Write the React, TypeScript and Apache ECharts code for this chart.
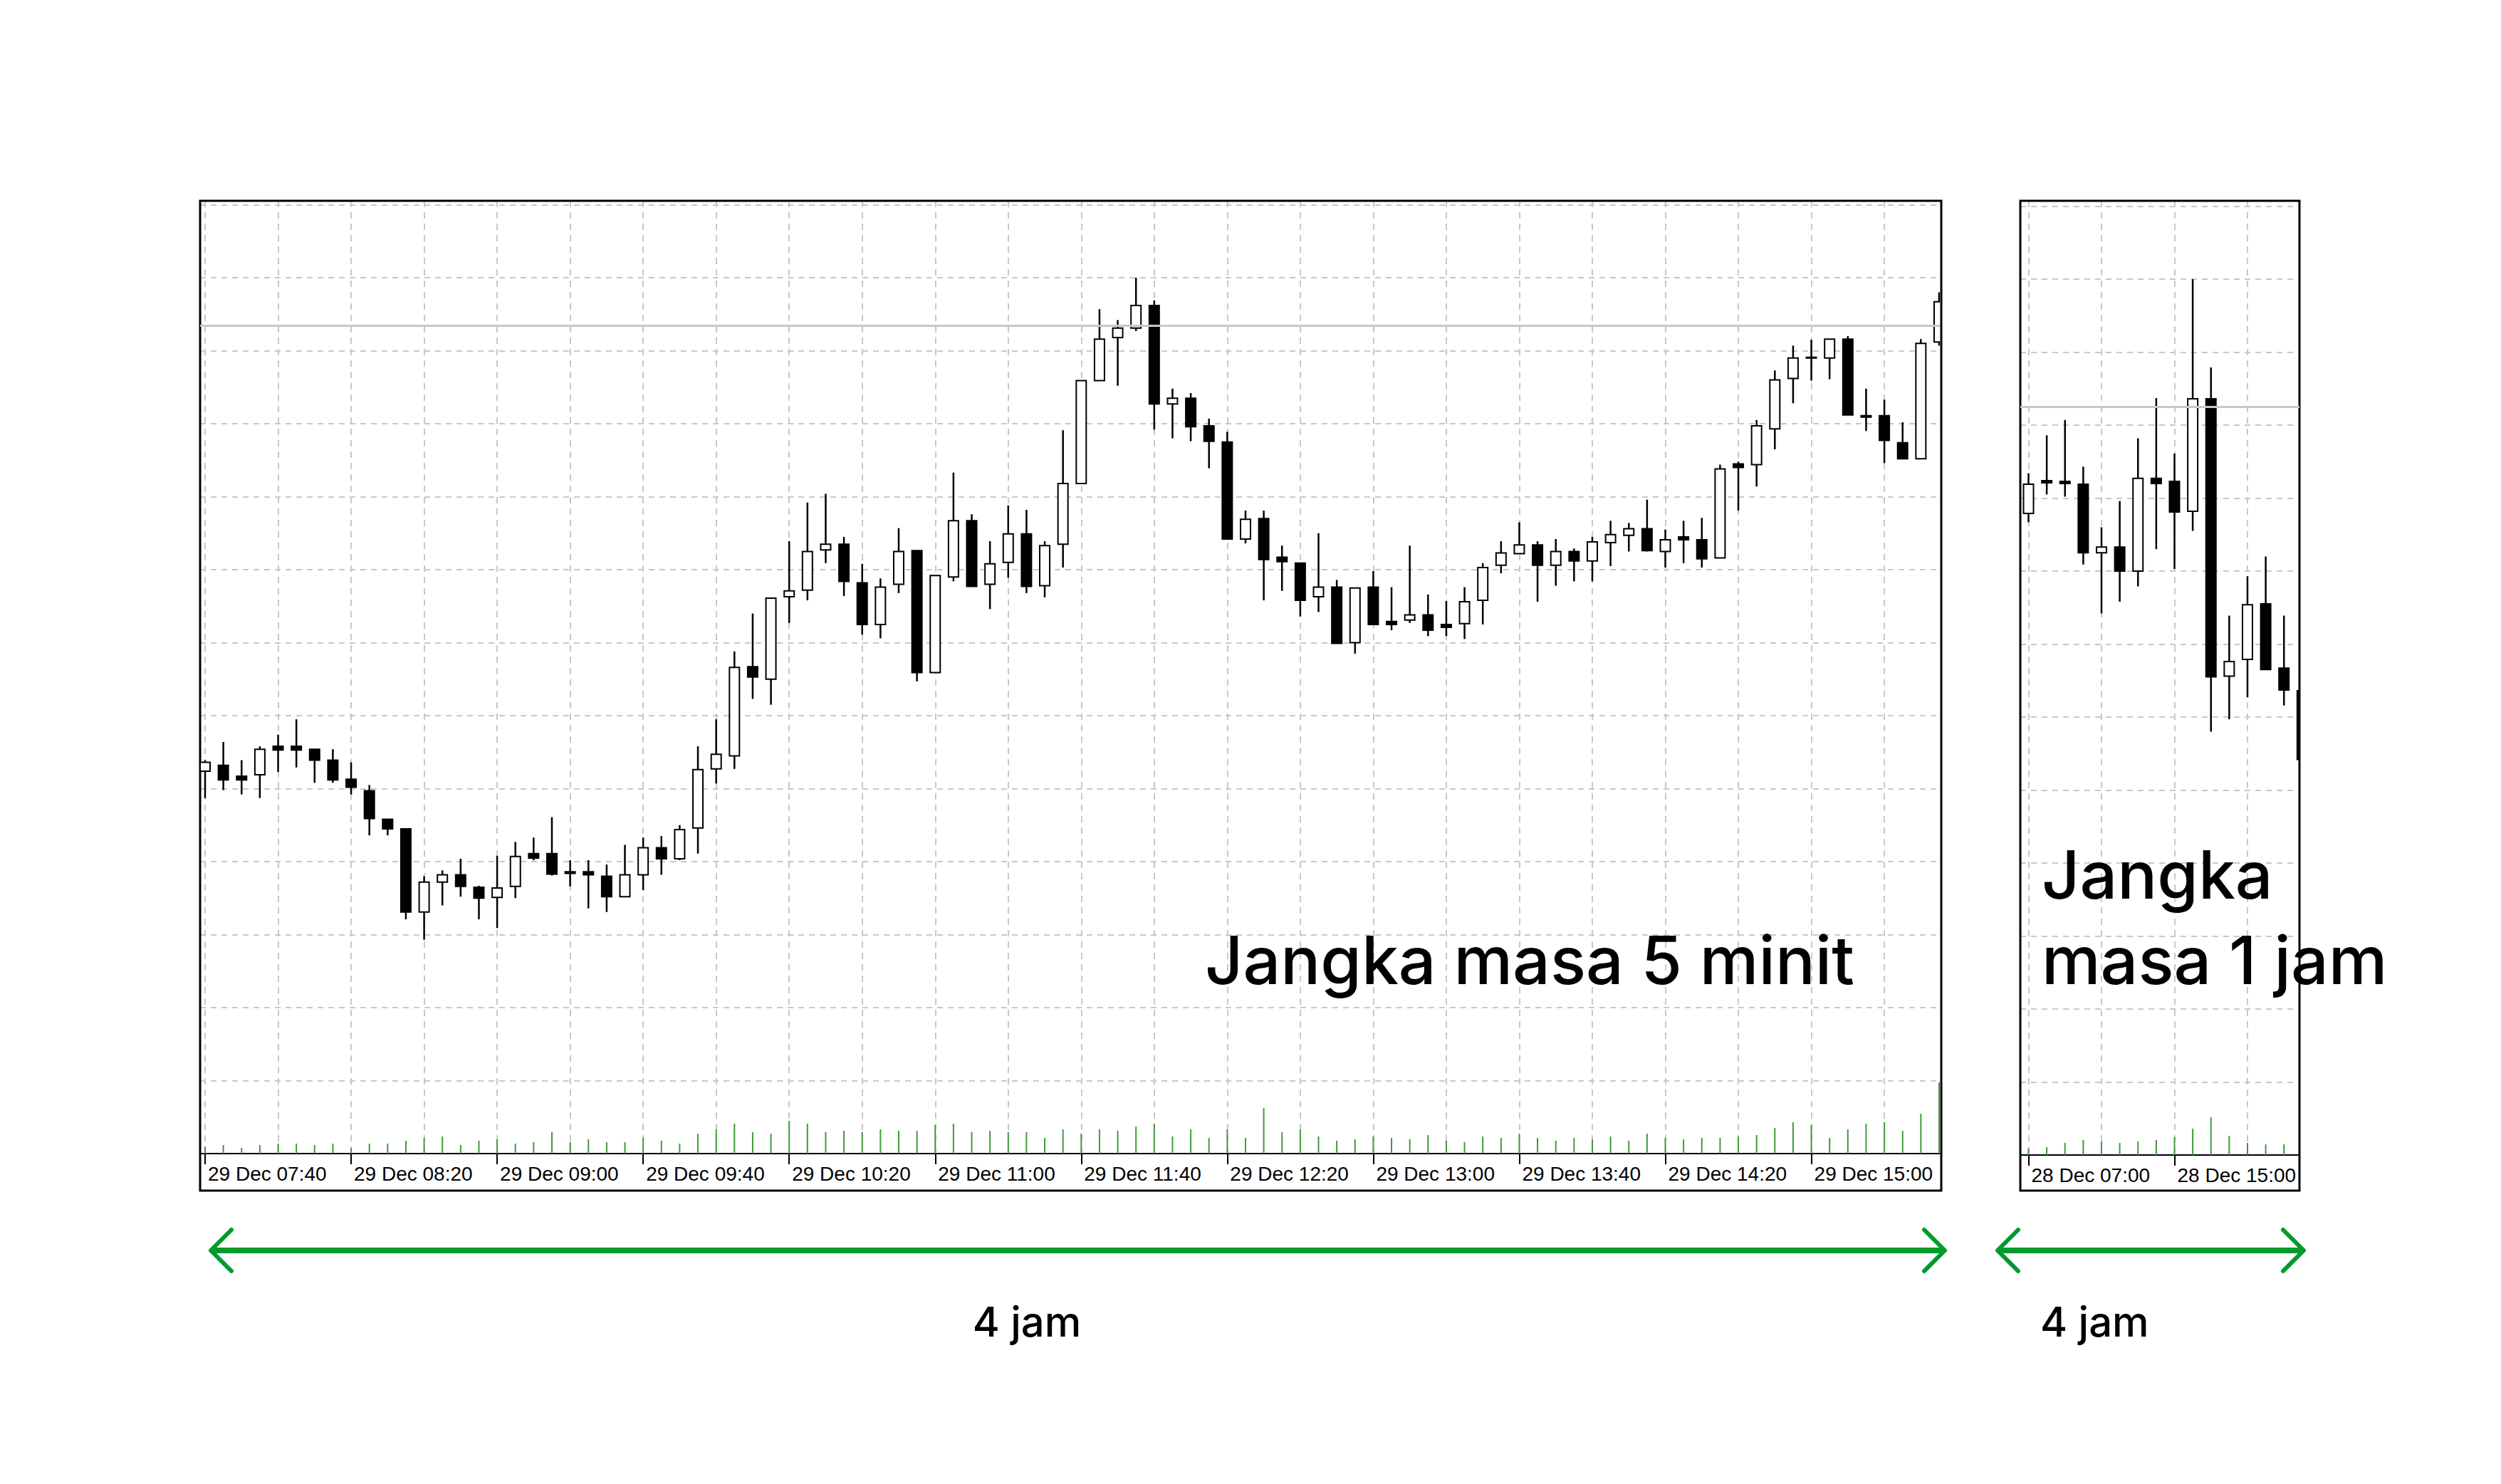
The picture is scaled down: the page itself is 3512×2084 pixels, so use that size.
import React, { useEffect, useRef } from "react";
import * as echarts from "echarts";

// ---------- data ----------
const mainTickLabels = [
  "29 Dec 07:40", "29 Dec 08:20", "29 Dec 09:00", "29 Dec 09:40",
  "29 Dec 10:20", "29 Dec 11:00", "29 Dec 11:40", "29 Dec 12:20",
  "29 Dec 13:00", "29 Dec 13:40", "29 Dec 14:20", "29 Dec 15:00",
];
const hourTickLabels = ["28 Dec 07:00", "28 Dec 15:00"];

// 5-minute candles: [open, close, low, high]
const mainCandles = [
  [52.4, 53.6, 48.7, 53.9], [53.2, 51.2, 49.8, 56.4], [51.7, 51.2, 49.2, 53.9], [51.9, 55.4, 48.7, 55.8],
  [55.8, 55.3, 52.3, 57.4], [55.8, 55.3, 52.9, 59.5], [55.4, 53.9, 50.8, 55.4], [53.9, 51.2, 50.8, 55.4],
  [51.3, 50.2, 49.2, 53.6], [49.7, 45.9, 43.6, 50.5], [45.8, 44.5, 43.6, 45.8], [44.5, 33.1, 32.1, 44.5],
  [33.1, 37.2, 29.3, 38.0], [37.2, 38.2, 34.0, 38.8], [38.2, 36.6, 35.2, 40.4], [36.5, 35.0, 32.1, 36.7],
  [35.1, 36.4, 30.9, 40.8], [36.6, 40.7, 35.0, 42.7], [41.1, 40.5, 40.2, 43.3], [41.1, 38.3, 38.1, 46.1],
  [38.6, 38.4, 36.6, 40.2], [38.6, 38.2, 33.6, 40.2], [38.0, 35.2, 33.1, 39.6], [35.2, 38.2, 35.2, 42.3],
  [38.2, 41.9, 36.1, 43.3], [41.9, 40.4, 38.2, 43.5], [40.4, 44.4, 40.2, 45.0], [44.6, 52.6, 41.1, 55.8],
  [52.7, 54.7, 50.7, 59.5], [54.5, 66.6, 52.7, 68.8], [66.7, 65.3, 62.3, 74.0], [65.0, 76.1, 61.5, 76.1],
  [76.3, 77.1, 72.7, 83.9], [77.2, 82.5, 75.8, 89.2], [82.7, 83.5, 80.9, 90.4], [83.5, 78.4, 76.4, 84.5],
  [78.2, 72.5, 71.1, 80.8], [72.5, 77.6, 70.6, 78.8], [78.0, 82.5, 76.8, 85.7], [82.6, 65.9, 64.7, 82.6],
  [65.9, 79.2, 65.9, 79.2], [79.0, 86.7, 78.4, 93.3], [86.7, 77.7, 77.7, 87.6], [78.0, 80.8, 74.6, 83.9],
  [81.0, 84.9, 78.9, 88.8], [84.9, 77.7, 76.8, 88.2], [77.8, 83.3, 76.2, 83.9], [83.5, 91.8, 80.3, 99.1],
  [91.8, 105.9, 91.8, 105.9], [105.9, 111.6, 105.9, 115.7], [111.8, 113.1, 105.2, 114.2], [113.1, 116.2, 112.7, 120.0],
  [116.2, 102.7, 99.2, 116.9], [102.7, 103.5, 98.0, 104.8], [103.5, 99.6, 97.6, 104.2], [99.7, 97.6, 93.9, 100.7],
  [97.5, 84.2, 84.2, 98.9], [84.2, 86.9, 83.6, 88.1], [87.0, 81.4, 75.8, 88.1], [81.7, 81.1, 77.1, 83.3],
  [80.9, 75.8, 73.6, 80.9], [76.3, 77.6, 74.2, 85.0], [77.6, 69.9, 69.9, 78.6], [70.0, 77.5, 68.5, 77.5],
  [77.6, 72.5, 72.5, 79.8], [72.9, 72.5, 71.7, 77.6], [73.1, 73.8, 72.7, 83.3], [73.8, 71.7, 70.9, 76.6],
  [72.5, 72.1, 70.9, 75.7], [72.6, 75.6, 70.5, 77.6], [75.8, 80.3, 72.5, 80.9], [80.6, 82.3, 79.5, 83.9],
  [82.2, 83.4, 82.2, 86.5], [83.4, 80.6, 75.6, 83.9], [80.6, 82.5, 77.8, 84.2], [82.5, 81.2, 78.4, 82.9],
  [81.2, 83.8, 78.4, 84.5], [83.7, 84.8, 80.5, 86.7], [84.7, 85.6, 82.5, 86.4], [85.6, 82.6, 82.5, 89.6],
  [82.5, 84.1, 80.3, 85.5], [84.5, 84.1, 80.9, 86.7], [84.1, 81.5, 80.3, 87.1], [81.6, 93.8, 81.6, 94.4],
  [94.5, 94.0, 88.1, 94.8], [94.4, 99.7, 91.4, 100.5], [99.3, 106.0, 96.5, 107.3], [106.2, 109.0, 102.8, 110.7],
  [109.0, 109.1, 105.9, 111.5], [109.0, 111.6, 106.1, 111.6], [111.6, 101.2, 101.2, 112.0], [101.1, 100.9, 99.0, 104.8],
  [101.1, 97.7, 94.6, 103.3], [97.4, 95.2, 95.2, 100.2], [95.2, 111.0, 95.2, 111.6], [111.2, 116.7, 110.7, 118.0],
];

const mainVolumes = [
  100, 120, 80, 120, 140, 140, 120, 140,
  80, 140, 140, 180, 220, 240, 120, 180,
  200, 140, 160, 300, 160, 200, 160, 160,
  220, 180, 140, 280, 340, 420, 300, 280,
  460, 420, 300, 320, 300, 340, 320, 320,
  400, 420, 300, 320, 300, 300, 220, 340,
  280, 340, 320, 380, 420, 240, 340, 220,
  340, 220, 640, 300, 340, 240, 180, 200,
  240, 220, 200, 260, 180, 160, 240, 220,
  280, 220, 180, 220, 200, 240, 180, 280,
  220, 200, 220, 220, 240, 260, 360, 440,
  400, 220, 340, 420, 440, 320, 560, 1000,
];

// 1-hour candles: [open, close, low, high]
const hourCandles = [
  [87.9, 91.9, 86.7, 93.4], [92.4, 92.1, 90.5, 98.6], [92.3, 92.0, 90.2, 100.7], [91.9, 82.5, 80.9, 94.3],
  [82.5, 83.3, 74.2, 86.0], [83.3, 80.0, 75.8, 89.6], [80.0, 92.7, 77.9, 98.2], [92.7, 92.0, 83.0, 103.7],
  [92.3, 88.1, 80.3, 96.1], [88.2, 103.6, 85.5, 120.0], [103.6, 65.5, 58.0, 107.9], [65.6, 67.6, 59.7, 73.9],
  [67.9, 75.4, 62.7, 79.3], [75.5, 66.5, 66.5, 82.0], [66.7, 63.7, 61.6, 73.9], [63.6, 54.2, 54.2, 63.6],
];
const hourVolumes = [90, 110, 170, 210, 190, 170, 190, 210, 250, 370, 530, 270, 170, 150, 150, 120];

const mainRefLevel = 113.4;
const hourRefLevel = 102.5;

// ---------- styling ----------
const GRID_COLOR = "#c8c8c8";
const VOL_COLOR = "#3f9b37";
const ARROW_COLOR = "#009a2e";
const TEXT_FONT = "Inter";
const AXIS_FONT = "Liberation Sans";

function candleRender(params: any, api: any) {
  const i = api.value(0);
  const o = api.value(1);
  const c = api.value(2);
  const l = api.value(3);
  const h = api.value(4);
  const pO = api.coord([i, o]);
  const pC = api.coord([i, c]);
  const pL = api.coord([i, l]);
  const pH = api.coord([i, h]);
  const x = pO[0];
  const top = Math.min(pO[1], pC[1]);
  const bot = Math.max(pO[1], pC[1]);
  const bull = c >= o;
  const half = 7;
  const bh = Math.max(bot - top, 1);
  return {
    type: "group",
    children: [
      {
        type: "line",
        shape: { x1: x, y1: pH[1], x2: x, y2: pL[1] },
        style: { stroke: "#000", lineWidth: 2.5 },
      },
      {
        type: "rect",
        shape: { x: x - half, y: top, width: half * 2, height: bh },
        style: { fill: bull ? "#fff" : "#000", stroke: "#000", lineWidth: 2 },
      },
    ],
  };
}

function volumeRender(params: any, api: any) {
  const i = api.value(0);
  const v = api.value(1);
  const p0 = api.coord([i, 0]);
  const p1 = api.coord([i, v]);
  return {
    type: "line",
    shape: { x1: p0[0], y1: p0[1], x2: p1[0], y2: p1[1] },
    style: { stroke: VOL_COLOR, lineWidth: 2 },
  };
}

function arrow(x1: number, x2: number, y: number) {
  const b = 29;
  return [
    { type: "line", shape: { x1: x1 + 2, y1: y, x2: x2 - 2, y2: y }, style: { stroke: ARROW_COLOR, lineWidth: 8 }, z: 50 },
    { type: "polyline", shape: { points: [[x1 + b, y - b], [x1, y], [x1 + b, y + b]] }, style: { stroke: ARROW_COLOR, fill: "none", lineWidth: 6, lineCap: "round", lineJoin: "round" }, z: 50 },
    { type: "polyline", shape: { points: [[x2 - b, y - b], [x2, y], [x2 - b, y + b]] }, style: { stroke: ARROW_COLOR, fill: "none", lineWidth: 6, lineCap: "round", lineJoin: "round" }, z: 50 },
  ];
}

export default function App() {
  const ref = useRef<HTMLDivElement>(null);

  useEffect(() => {
    if (!ref.current) return;
    const chart = echarts.init(ref.current, undefined, { renderer: "svg" });

    const mainGridTicks = Array.from({ length: 24 }, (_, k) => k * 4);
    const mainLabelTicks = mainTickLabels.map((_, k) => k * 8);
    const hourGridTicks = [0, 4, 8, 12];
    const hourLabelTicks = hourTickLabels.map((_, k) => k * 8);

    const splitX = { show: true, lineStyle: { color: GRID_COLOR, width: 2, type: [9, 7] as any } };
    const splitY = { show: true, lineStyle: { color: GRID_COLOR, width: 2, type: [8, 7] as any } };

    const labelAxis = (gridIndex: number, min: number, max: number, ticks: number[], labels: string[]) => ({
      type: "value",
      gridIndex,
      position: "bottom",
      min,
      max,
      axisLine: { show: true, onZero: false, lineStyle: { color: "#000", width: 2 } },
      axisTick: { show: true, customValues: ticks, length: 15, lineStyle: { color: "#000", width: 2 } },
      axisLabel: {
        show: true,
        customValues: ticks,
        formatter: (v: number) => labels[Math.round(v / 8)] ?? "",
        align: "left",
        padding: [0, 0, 0, 4],
        margin: 14,
        color: "#000",
        fontSize: 28,
        fontFamily: AXIS_FONT,
      },
      splitLine: { show: false },
    });

    const gridAxis = (gridIndex: number, min: number, max: number, ticks: number[]) => ({
      type: "value",
      gridIndex,
      position: "top",
      min,
      max,
      axisLine: { show: false },
      axisTick: { show: false, customValues: ticks },
      axisLabel: { show: false },
      splitLine: splitX,
    });

    const bigText = (text: string, x: number, y: number) => ({
      type: "text", x, y, z: 60,
      style: { text, fontSize: 93, fontWeight: 500, fontFamily: TEXT_FONT, fill: "#000", align: "left", verticalAlign: "middle" },
    });

    const option: any = {
      animation: false,
      backgroundColor: "#fff",
      grid: [
        { left: 281, top: 282, width: 2443, height: 1338, outerBoundsMode: "none", containLabel: false },
        { left: 2837, top: 282, width: 392, height: 1340, outerBoundsMode: "none", containLabel: false },
      ],
      xAxis: [
        gridAxis(0, -0.273, 95.04, mainGridTicks),
        labelAxis(0, -0.273, 95.04, mainLabelTicks, mainTickLabels),
        gridAxis(1, -0.449, 14.85, hourGridTicks),
        labelAxis(1, -0.449, 14.85, hourLabelTicks, hourTickLabels),
      ],
      yAxis: [
        { type: "value", gridIndex: 0, min: 0, max: 130.54, interval: 10, axisLine: { show: false }, axisTick: { show: false }, axisLabel: { show: false }, splitLine: splitY },
        { type: "value", gridIndex: 0, min: 0, max: 13380, show: false, splitLine: { show: false } },
        { type: "value", gridIndex: 1, min: 0, max: 130.73, interval: 10, axisLine: { show: false }, axisTick: { show: false }, axisLabel: { show: false }, splitLine: splitY },
        { type: "value", gridIndex: 1, min: 0, max: 13400, show: false, splitLine: { show: false } },
      ],
      series: [
        {
          type: "custom",
          name: "vol5",
          xAxisIndex: 0,
          yAxisIndex: 1,
          clip: false,
          silent: true,
          encode: { x: 0, y: 1 },
          data: mainVolumes.map((v, i) => [i, v]),
          renderItem: volumeRender,
          z: 4,
        },
        {
          type: "custom",
          name: "m5",
          xAxisIndex: 0,
          yAxisIndex: 0,
          clip: true,
          silent: true,
          encode: { x: 0, y: [1, 2, 3, 4] },
          data: mainCandles.map((d, i) => [i, ...d]),
          renderItem: candleRender,
          markLine: {
            silent: true,
            symbol: "none",
            label: { show: false },
            lineStyle: { color: GRID_COLOR, width: 3, type: "solid" },
            data: [{ yAxis: mainRefLevel }],
          },
          z: 3,
        },
        {
          type: "custom",
          name: "vol1h",
          xAxisIndex: 2,
          yAxisIndex: 3,
          clip: true,
          silent: true,
          encode: { x: 0, y: 1 },
          data: hourVolumes.map((v, i) => [i, v]),
          renderItem: volumeRender,
        },
        {
          type: "custom",
          name: "h1",
          xAxisIndex: 2,
          yAxisIndex: 2,
          clip: true,
          silent: true,
          encode: { x: 0, y: [1, 2, 3, 4] },
          data: hourCandles.map((d, i) => [i, ...d]),
          renderItem: candleRender,
          markLine: {
            silent: true,
            symbol: "none",
            label: { show: false },
            lineStyle: { color: GRID_COLOR, width: 3, type: "solid" },
            data: [{ yAxis: hourRefLevel }],
          },
          z: 3,
        },
      ],
      graphic: [
        { type: "rect", shape: { x: 281, y: 282, width: 2445, height: 1390 }, style: { fill: "none", stroke: "#000", lineWidth: 3 }, z: 1 },
        { type: "rect", shape: { x: 2837, y: 282, width: 392, height: 1390 }, style: { fill: "none", stroke: "#000", lineWidth: 3 }, z: 1 },
        bigText("Jangka masa 5 minit", 1692, 1348),
        bigText("Jangka", 2867, 1228),
        bigText("masa 1 jam", 2867, 1348),
        { type: "text", x: 1442, y: 1856, z: 60, style: { text: "4 jam", fontSize: 58, fontWeight: 500, fontFamily: TEXT_FONT, fill: "#000", align: "center", verticalAlign: "middle" } },
        { type: "text", x: 2865, y: 1856, z: 60, style: { text: "4 jam", fontSize: 58, fontWeight: 500, fontFamily: TEXT_FONT, fill: "#000", align: "left", verticalAlign: "middle" } },
        ...arrow(296, 2731, 1756),
        ...arrow(2805, 3235, 1756),
      ],
    };

    chart.setOption(option);
    return () => chart.dispose();
  }, []);

  return (
    <div
      ref={ref}
      style={{ position: "fixed", left: 0, top: 0, width: 3512, height: 2084, background: "#fff" }}
    />
  );
}
